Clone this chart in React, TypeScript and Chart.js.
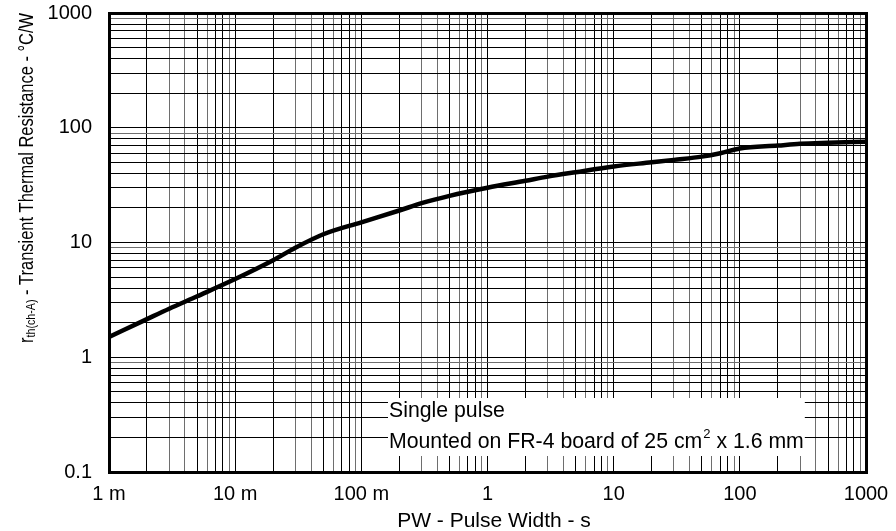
import { useEffect, useRef } from 'react';
import { Chart, registerables } from 'chart.js';

Chart.register(...registerables);

// ---- data ----
const pulseWidth = [0.001, 0.002, 0.003, 0.005, 0.01, 0.02, 0.03, 0.05, 0.1, 0.2, 0.3, 0.5, 1, 2, 3, 5, 10, 20, 30, 50, 70, 100, 200, 300, 500, 1000];
const thermalRes = [1.5, 2.15, 2.65, 3.4, 4.8, 7.0, 9.0, 11.8, 15, 19, 22, 25.5, 30, 34.5, 37.5, 41, 46, 50, 52.5, 56, 60, 66, 70, 72.5, 74, 75.5];

const xMajorValues = [0.001, 0.01, 0.1, 1, 10, 100, 1000];
const xMajorLabels = ['1 m', '10 m', '100 m', '1', '10', '100', '1000'];
const yMajorValues = [0.1, 1, 10, 100, 1000];
const yMajorLabels = ['0.1', '1', '10', '100', '1000'];

const xTitle = 'PW - Pulse Width - s';
const yTitleMain = 'r';
const yTitleSub = 'th(ch-A)';
const yTitleRest = ' - Transient Thermal Resistance - \u00B0C/W';
const noteLine1 = 'Single pulse';
const noteLine2a = 'Mounted on FR-4 board of 25 cm';
const noteLine2sup = '2';
const noteLine2b = ' x 1.6 mm';

const FONT = "'Liberation Sans', Arial, Helvetica, sans-serif";

function logTicks(min: number, max: number) {
  const out: { value: number; major: boolean }[] = [];
  const e0 = Math.round(Math.log10(min));
  const e1 = Math.round(Math.log10(max));
  for (let e = e0; e <= e1; e++) {
    for (let d = 1; d <= 9; d++) {
      const v = parseFloat((d * Math.pow(10, e)).toPrecision(4));
      if (v > max * 1.0001) break;
      out.push({ value: v, major: d === 1 });
    }
  }
  return out;
}

function findLabel(v: number, vals: number[], labels: string[]) {
  for (let i = 0; i < vals.length; i++) {
    if (Math.abs(v / vals[i] - 1) < 1e-6) return labels[i];
  }
  return '';
}

function mantissa(v: number) {
  const e = Math.floor(Math.log10(v) + 1e-9);
  return Math.round(v / Math.pow(10, e));
}

const grayDigitsX = [3, 4, 6, 9];
const grayDigitsY = [9];

const decorPlugin = {
  id: 'decor',
  beforeDatasetsDraw(chart: any) {
    const ctx = chart.ctx as CanvasRenderingContext2D;
    ctx.save();
    let size = 21;
    ctx.font = `${size}px ${FONT}`;
    const base = ctx.measureText(noteLine2a + noteLine2b).width + ctx.measureText(noteLine2sup).width * 0.6;
    size = Math.min(22, Math.max(18, (414 / base) * size));
    const supSize = Math.round(size * 0.6);
    ctx.font = `${size}px ${FONT}`;
    const w2a = ctx.measureText(noteLine2a).width;
    const w2b = ctx.measureText(noteLine2b).width;
    ctx.font = `${supSize}px ${FONT}`;
    const wsup = ctx.measureText(noteLine2sup).width;
    const boxW = w2a + wsup + w2b + 3;
    ctx.fillStyle = '#ffffff';
    ctx.fillRect(388, 398, boxW, 58);
    ctx.fillStyle = '#000';
    ctx.textBaseline = 'alphabetic';
    ctx.textAlign = 'left';
    ctx.font = `${size}px ${FONT}`;
    ctx.fillText(noteLine1, 389, 417);
    ctx.fillText(noteLine2a, 389, 448);
    ctx.font = `${supSize}px ${FONT}`;
    ctx.fillText(noteLine2sup, 389 + w2a + 1, 438);
    ctx.font = `${size}px ${FONT}`;
    ctx.fillText(noteLine2b, 389 + w2a + wsup + 1, 448);
    ctx.restore();
  },
  afterDraw(chart: any) {
    const ctx = chart.ctx as CanvasRenderingContext2D;
    const a = chart.chartArea;
    ctx.save();
    ctx.strokeStyle = '#000';
    ctx.lineWidth = 3;
    ctx.strokeRect(a.left + 0.5, a.top + 0.5, a.right - a.left, a.bottom - a.top);
    // x title
    ctx.fillStyle = '#000';
    ctx.font = `21px ${FONT}`;
    ctx.textAlign = 'center';
    ctx.textBaseline = 'alphabetic';
    ctx.fillText(xTitle, 494, 527);
    // y title (rotated), condensed to span y 343 -> 13
    const size = 20;
    const sub = 13;
    ctx.font = `${size}px ${FONT}`;
    const w1 = ctx.measureText(yTitleMain).width;
    const w3 = ctx.measureText(yTitleRest).width;
    ctx.font = `${sub}px ${FONT}`;
    const w2 = ctx.measureText(yTitleSub).width;
    const k = 330 / (w1 + w2 + w3);
    ctx.translate(33, 343);
    ctx.rotate(-Math.PI / 2);
    ctx.scale(k, 1);
    ctx.textAlign = 'left';
    ctx.font = `${size}px ${FONT}`;
    let x = 0;
    ctx.fillText(yTitleMain, x, 0);
    x += w1;
    ctx.font = `${sub}px ${FONT}`;
    ctx.fillText(yTitleSub, x, 2);
    x += w2;
    ctx.font = `${size}px ${FONT}`;
    ctx.fillText(yTitleRest, x, 0);
    ctx.restore();
  },
};

export default function App() {
  const ref = useRef<HTMLCanvasElement | null>(null);
  useEffect(() => {
    document.body.style.margin = '0';
    const canvas = ref.current;
    if (!canvas) return;
    const chart = new Chart(canvas, {
      type: 'line',
      data: {
        datasets: [
          {
            data: pulseWidth.map((p, i) => ({ x: p, y: thermalRes[i] })),
            borderColor: '#000',
            borderWidth: 4.5,
            pointRadius: 0,
            fill: false,
            cubicInterpolationMode: 'monotone',
          },
        ],
      },
      options: {
        animation: false,
        responsive: false,
        devicePixelRatio: 1,
        layout: { padding: { top: 13, right: 30, left: 0, bottom: 0 } },
        plugins: { legend: { display: false }, tooltip: { enabled: false } },
        scales: {
          x: {
            type: 'logarithmic',
            min: 0.001,
            max: 1000,
            afterBuildTicks: (scale: any) => {
              scale.ticks = logTicks(0.001, 1000);
            },
            afterFit: (scale: any) => {
              scale.height = 59;
              scale.paddingLeft = 0;
              scale.paddingRight = 0;
            },
            border: { display: false },
            grid: {
              drawTicks: false,
              lineWidth: 1,
              color: (ctx: any) => {
                const v = ctx.tick ? ctx.tick.value : 1;
                return grayDigitsX.includes(mantissa(v)) ? '#6e6e6e' : '#000';
              },
            },
            ticks: {
              autoSkip: false,
              maxRotation: 0,
              padding: 10,
              color: '#000',
              font: { family: FONT, size: 20 },
              callback: (v: any) => findLabel(Number(v), xMajorValues, xMajorLabels),
            },
          },
          y: {
            type: 'logarithmic',
            min: 0.1,
            max: 1000,
            afterBuildTicks: (scale: any) => {
              scale.ticks = logTicks(0.1, 1000);
            },
            afterFit: (scale: any) => {
              scale.width = 109;
              scale.paddingTop = 0;
              scale.paddingBottom = 0;
            },
            border: { display: false },
            grid: {
              drawTicks: false,
              lineWidth: 1,
              color: (ctx: any) => {
                const v = ctx.tick ? ctx.tick.value : 1;
                return grayDigitsY.includes(mantissa(v)) ? '#6e6e6e' : '#000';
              },
            },
            ticks: {
              autoSkip: false,
              padding: 17,
              color: '#000',
              font: { family: FONT, size: 20 },
              callback: (v: any) => findLabel(Number(v), yMajorValues, yMajorLabels),
            },
          },
        },
      },
      plugins: [decorPlugin],
    } as any);
    return () => chart.destroy();
  }, []);
  return (
    <div style={{ position: 'fixed', left: 0, top: 0, width: 896, height: 531, background: '#fff' }}>
      <canvas ref={ref} width={896} height={531} style={{ width: 896, height: 531, display: 'block' }} />
    </div>
  );
}
